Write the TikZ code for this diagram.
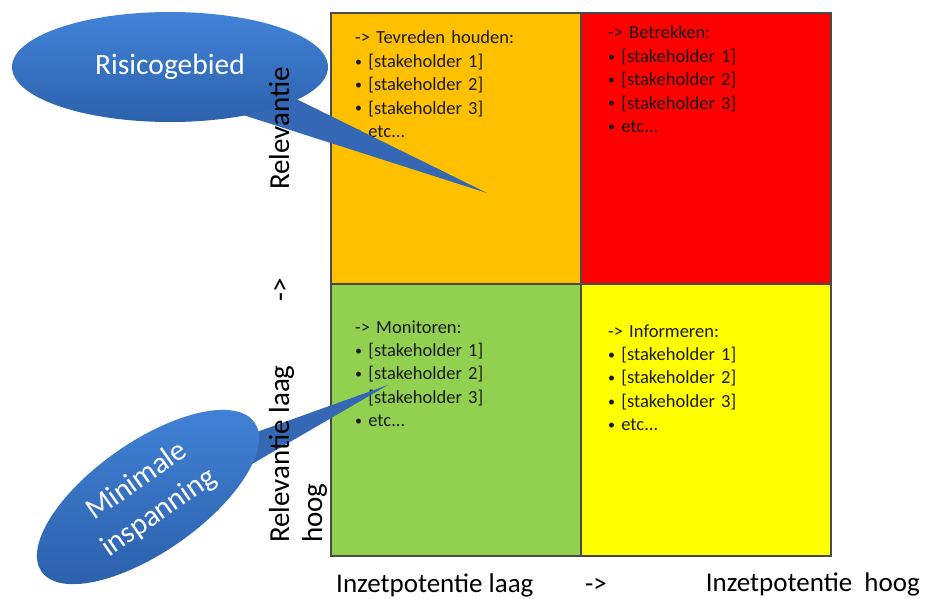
\documentclass[tikz,border=0pt]{standalone}
\usepackage{fontspec}
\setmainfont{Carlito}
\usetikzlibrary{shapes.geometric}
\definecolor{qorange}{HTML}{FFC000}
\definecolor{qred}{HTML}{FF0000}
\definecolor{qgreen}{HTML}{92D050}
\definecolor{qyellow}{HTML}{FFFF00}
\definecolor{gridline}{HTML}{4A4A4A}
\definecolor{btop}{HTML}{4283D8}
\definecolor{bbot}{HTML}{2C61AC}
\definecolor{btail}{HTML}{3468B4}
\definecolor{qtext}{HTML}{1A1A1A}
\newcommand{\qb}{\raisebox{1.2pt}{\fontsize{14}{14}\selectfont\textbullet}\ }
\tikzset{
  quad/.style={draw=gridline, line width=2pt, minimum width=250pt, minimum height=271pt, anchor=north west, inner sep=0pt},
  qlist/.style={anchor=base west, inner sep=0pt, text width=210pt, align=left, text=qtext,
    font=\fontsize{18.5}{23.4}\selectfont},
  bubble/.style={ellipse, top color=btop, bottom color=bbot, draw=none, text=white, inner sep=0pt, align=center},
  bubbletail/.style={fill=btail, draw=none},
  haxis/.style={inner sep=0pt, text=black, font=\fontsize{27}{32}\selectfont},
  vaxis/.style={inner sep=0pt, text=black, rotate=90, font=\fontsize{29}{34}\selectfont},
}
\begin{document}
\begin{tikzpicture}[x=1pt,y=1pt]
\useasboundingbox (0,0) rectangle (927,-599);
\fill[white] (0,0) rectangle (927,-599);

% quadrants
\node[quad, fill=qorange] (q1) at (330,-12) {};
\node[quad, fill=qred] (q2) at (580,-12) {};
\node[quad, fill=qgreen, minimum height=272pt] (q3) at (330,-283) {};
\node[quad, fill=qyellow, minimum height=272pt] (q4) at (580,-283) {};

% quadrant texts
\node[qlist] (t1) at (355,-44) {-> Tevreden houden:\\\qb[stakeholder 1]\\\qb[stakeholder 2]\\\qb[stakeholder 3]\\\qb etc...};
\node[qlist] (t2) at (608,-39) {-> Betrekken:\\\qb[stakeholder 1]\\\qb[stakeholder 2]\\\qb[stakeholder 3]\\\qb etc...};
\node[qlist] (t3) at (355,-333) {-> Monitoren:\\\qb[stakeholder 1]\\\qb[stakeholder 2]\\\qb[stakeholder 3]\\\qb etc...};
\node[qlist] (t4) at (608,-337) {-> Informeren:\\\qb[stakeholder 1]\\\qb[stakeholder 2]\\\qb[stakeholder 3]\\\qb etc...};

% callout: Risicogebied
\coordinate (rb1) at (280,-91);
\coordinate (rb2) at (240,-114);
\coordinate (rtip) at (487,-193);
\fill[bubbletail] (rb1) -- (rtip) -- (rb2) -- cycle;
\node[bubble, minimum width=316pt, minimum height=110pt, font=\fontsize{29.5}{34}\selectfont] (risk) at (170,-67) {Risicogebied};

% callout: Minimale inspanning
\coordinate (mb1) at (240,-438);
\coordinate (mb2) at (240,-471);
\coordinate (mtip) at (388,-385);
\fill[bubbletail] (mb1) -- (mtip) -- (mb2) -- cycle;
\node[bubble, minimum width=260pt, minimum height=110pt, rotate=35, font=\fontsize{30}{38}\selectfont] (mini) at (148,-497) {Minimale\\inspanning};

% axis labels
\node[haxis, anchor=base west] (xl1) at (336,-592) {Inzetpotentie laag};
\node[haxis, anchor=base west] (xl2) at (585,-592) {->};
\node[haxis, anchor=base east] (xl3) at (920,-591) {Inzetpotentie\ \ hoog};

\node[vaxis, anchor=base west] (yl0) at (289,-190) {Relevantie};
\node[vaxis, anchor=base west] (ylarrow) at (289,-302) {->};
\node[vaxis, anchor=base west] (yl1) at (289,-543) {Relevantie laag};
\node[vaxis, anchor=base west] (yl2) at (322,-543) {hoog};
\end{tikzpicture}
\end{document}
